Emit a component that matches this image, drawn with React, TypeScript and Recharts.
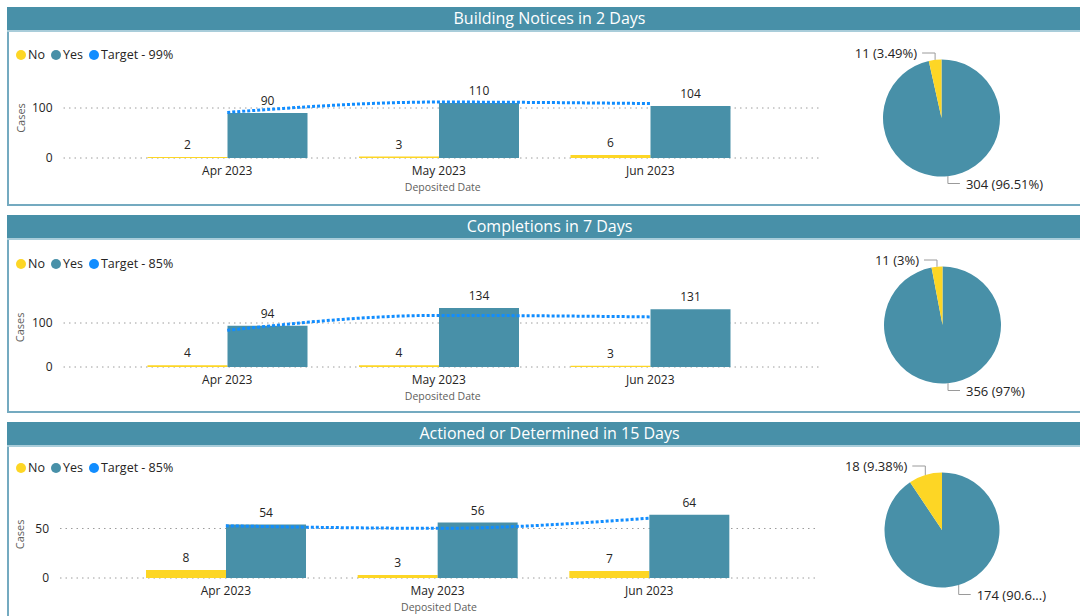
import React from 'react';
import {
  ComposedChart,
  Bar,
  Line,
  XAxis,
  YAxis,
  CartesianGrid,
  LabelList,
  Label,
  PieChart,
  Pie,
  Cell,
} from 'recharts';

// ---------- data ----------
const months = ['Apr 2023', 'May 2023', 'Jun 2023'];

const titles = ['Building Notices in 2 Days', 'Completions in 7 Days', 'Actioned or Determined in 15 Days'];
const targetLegend = ['Target - 99%', 'Target - 85%', 'Target - 85%'];

const noBN = [2, 3, 6];
const yesBN = [90, 110, 104];
const targetBN = [91.1, 111.9, 108.9];

const noCO = [4, 4, 3];
const yesCO = [94, 134, 131];
const targetCO = [83.3, 117.3, 113.9];

const noAD = [8, 3, 7];
const yesAD = [54, 56, 64];
const targetAD = [52.7, 50.2, 60.4];

const yTicksBN = [0, 100];
const yTicksCO = [0, 100];
const yTicksAD = [0, 50];

// pie: [Yes, No]
const pieNames = ['Yes', 'No'];
const pieBN = [304, 11];
const pieCO = [356, 11];
const pieAD = [174, 18];
const pieLabelsBN = ['304 (96.51%)', '11 (3.49%)'];
const pieLabelsCO = ['356 (97%)', '11 (3%)'];
const pieLabelsAD = ['174 (90.6...)', '18 (9.38%)'];

// ---------- style ----------
const TEAL = '#4890A8';
const YELLOW = '#FDD625';
const BLUE = '#118DFF';
const DARK = '#252423';
const GRAY = '#605E5C';
const FONT = '"Segoe UI", "Open Sans", sans-serif';

type Cfg = {
  panelTop: number;
  panelHeight: number;
  title: string;
  target: string;
  legendY: number;
  no: number[];
  yes: number[];
  tgt: number[];
  ticks: number[];
  domainMax: number;
  scale: number;
  zeroY: number;
  chartTop: number;
  plotLeft: number;
  plotRight: number;
  padLeft: number;
  padRight: number;
  pie: number[];
  pieLabels: string[];
  pieCX: number;
  pieCY: number;
  pieR: number;
};

const configs: Cfg[] = [
  {
    panelTop: 7, panelHeight: 199, title: titles[0], target: targetLegend[0], legendY: 55,
    no: noBN, yes: yesBN, tgt: targetBN, ticks: yTicksBN, domainMax: 160, scale: 0.5,
    zeroY: 158, chartTop: 40, plotLeft: 63.5, plotRight: 822, padLeft: 58, padRight: 66,
    pie: pieBN, pieLabels: pieLabelsBN, pieCX: 941.5, pieCY: 117.5, pieR: 58.5,
  },
  {
    panelTop: 215, panelHeight: 198, title: titles[1], target: targetLegend[1], legendY: 264,
    no: noCO, yes: yesCO, tgt: targetCO, ticks: yTicksCO, domainMax: 180, scale: 0.44,
    zeroY: 367, chartTop: 248, plotLeft: 63.5, plotRight: 822, padLeft: 58, padRight: 66,
    pie: pieCO, pieLabels: pieLabelsCO, pieCX: 942.5, pieCY: 325.3, pieR: 58.5,
  },
  {
    panelTop: 422, panelHeight: 220, title: titles[2], target: targetLegend[2], legendY: 467.5,
    no: noAD, yes: yesAD, tgt: targetAD, ticks: yTicksAD, domainMax: 88, scale: 0.99,
    zeroY: 578, chartTop: 455, plotLeft: 60, plotRight: 818, padLeft: 60, padRight: 63,
    pie: pieAD, pieLabels: pieLabelsAD, pieCX: 942, pieCY: 530.3, pieR: 57.5,
  },
];

const RAD = Math.PI / 180;

function Legend({ y, target }: { y: number; target: string }) {
  const items = [
    { c: YELLOW, t: 'No' },
    { c: TEAL, t: 'Yes' },
    { c: BLUE, t: target },
  ];
  return (
    <div
      style={{
        position: 'absolute', left: 16, top: y - 9, height: 18, display: 'flex', alignItems: 'center',
        fontSize: 12.5, color: DARK, lineHeight: '18px', whiteSpace: 'nowrap',
      }}
    >
      {items.map((it, i) => (
        <div key={i} style={{ display: 'flex', alignItems: 'center', marginRight: 6 }}>
          <span style={{ width: 10, height: 10, borderRadius: 5, background: it.c, display: 'inline-block', marginRight: 2 }} />
          <span>{it.t}</span>
        </div>
      ))}
    </div>
  );
}

function Panel({ cfg }: { cfg: Cfg }) {
  return (
    <div style={{ position: 'absolute', left: 7, top: cfg.panelTop, width: 1085, height: cfg.panelHeight }}>
      <div style={{ position: 'absolute', inset: 0, border: '2px solid #74AAC0', boxSizing: 'border-box' }} />
      <div
        style={{
          position: 'absolute', left: 0, top: 0, width: '100%', height: 23, background: TEAL, color: '#fff',
          fontSize: 16, lineHeight: '23px', textAlign: 'center',
        }}
      >
        {cfg.title}
      </div>
      <div style={{ position: 'absolute', left: 0, top: 23, width: '100%', height: 2, background: '#A9CDDA' }} />
    </div>
  );
}

function BarChartBlock({ cfg }: { cfg: Cfg }) {
  const data = months.map((m, i) => ({ month: m, no: cfg.no[i], yes: cfg.yes[i], target: cfg.tgt[i] }));
  const plotH = cfg.domainMax * cfg.scale;
  const marginTop = cfg.zeroY - plotH - cfg.chartTop;
  const xAxisH = 40;
  const width = 840;
  const height = marginTop + plotH + xAxisH;
  const yTitleY = marginTop + plotH / 2;
  const xTitleX = (cfg.plotLeft + cfg.plotRight) / 2;
  const xTitleY = marginTop + plotH + 29;
  return (
    <div style={{ position: 'absolute', left: 0, top: cfg.chartTop }}>
      <ComposedChart
        width={width}
        height={height}
        data={data}
        margin={{ top: marginTop, right: width - cfg.plotRight, bottom: 0, left: 0 }}
        barGap={0}
        barSize={80}
      >
        <CartesianGrid
          vertical={false}
          horizontalValues={cfg.ticks}
          stroke="#9C9C9C"
          strokeDasharray="1.5 4"
        />
        <XAxis
          dataKey="month"
          interval={0}
          padding={{ left: cfg.padLeft, right: cfg.padRight }}
          axisLine={false}
          tickLine={false}
          tickSize={0}
          tickMargin={8}
          height={xAxisH}
          tick={{ fill: DARK, fontSize: 12 }}
        >
          <Label
            content={() => (
              <text x={xTitleX} y={xTitleY} textAnchor="middle" dominantBaseline="central" fill={GRAY} fontSize={10.5}>
                Deposited Date
              </text>
            )}
          />
        </XAxis>
        <YAxis
          width={cfg.plotLeft}
          domain={[0, cfg.domainMax]}
          ticks={cfg.ticks}
          axisLine={false}
          tickLine={false}
          tickSize={0}
          tickMargin={11}
          tick={{ fill: DARK, fontSize: 12 }}
        >
          <Label
            content={() => (
              <text
                x={20}
                y={yTitleY}
                transform={`rotate(-90, 20, ${yTitleY})`}
                textAnchor="middle"
                dominantBaseline="central"
                fill={GRAY}
                fontSize={11}
              >
                Cases
              </text>
            )}
          />
        </YAxis>
        <Bar dataKey="no" fill={YELLOW} isAnimationActive={false}>
          <LabelList dataKey="no" position="top" offset={8} fill={DARK} fontSize={12} />
        </Bar>
        <Bar dataKey="yes" fill={TEAL} isAnimationActive={false}>
          <LabelList dataKey="yes" position="top" offset={8} fill={DARK} fontSize={12} />
        </Bar>
        <Line
          dataKey="target"
          type="monotone"
          stroke={BLUE}
          strokeWidth={3}
          strokeDasharray="3 2"
          dot={false}
          activeDot={false}
          isAnimationActive={false}
        />
      </ComposedChart>
    </div>
  );
}

function PieBlock({ cfg }: { cfg: Cfg }) {
  const left = 832;
  const w = 248;
  const h = 180;
  const top = cfg.pieCY - h / 2;
  const data = cfg.pie.map((v, i) => ({ name: pieNames[i], value: v, label: cfg.pieLabels[i] }));
  const renderLabel = (p: any) => {
    const { cx, cy, midAngle, outerRadius, index } = p;
    const px = cx + outerRadius * Math.cos(-midAngle * RAD);
    const py = cy + outerRadius * Math.sin(-midAngle * RAD);
    const up = py < cy;
    const ly = up ? cy - outerRadius - 6.5 : cy + outerRadius + 7;
    const leftSide = px < cx;
    const hx = leftSide ? px - 13 : px + 12;
    const tx = leftSide ? px - 18 : px + 18;
    return (
      <g key={`l${index}`}>
        <polyline points={`${px},${py} ${px},${ly} ${hx},${ly}`} fill="none" stroke="#9A9A9A" strokeWidth={1} />
        <text x={tx} y={ly} textAnchor={leftSide ? 'end' : 'start'} dominantBaseline="central" fill={DARK} fontSize={13}>
          {data[index].label}
        </text>
      </g>
    );
  };
  return (
    <div style={{ position: 'absolute', left, top }}>
      <PieChart width={w} height={h} margin={{ top: 0, right: 0, bottom: 0, left: 0 }}>
        <Pie
          data={data}
          dataKey="value"
          nameKey="name"
          cx={cfg.pieCX - left}
          cy={h / 2}
          outerRadius={cfg.pieR}
          startAngle={90}
          endAngle={-270}
          stroke="none"
          labelLine={false}
          label={renderLabel}
          isAnimationActive={false}
        >
          <Cell fill={TEAL} />
          <Cell fill={YELLOW} />
        </Pie>
      </PieChart>
    </div>
  );
}

export default function App() {
  return (
    <div
      style={{
        position: 'absolute', left: 0, top: 0, width: 1080, height: 616, overflow: 'hidden',
        background: '#fff', fontFamily: FONT,
      }}
    >
      {configs.map((cfg, i) => (
        <React.Fragment key={i}>
          <Panel cfg={cfg} />
          <Legend y={cfg.legendY} target={cfg.target} />
          <BarChartBlock cfg={cfg} />
          <PieBlock cfg={cfg} />
        </React.Fragment>
      ))}
    </div>
  );
}
